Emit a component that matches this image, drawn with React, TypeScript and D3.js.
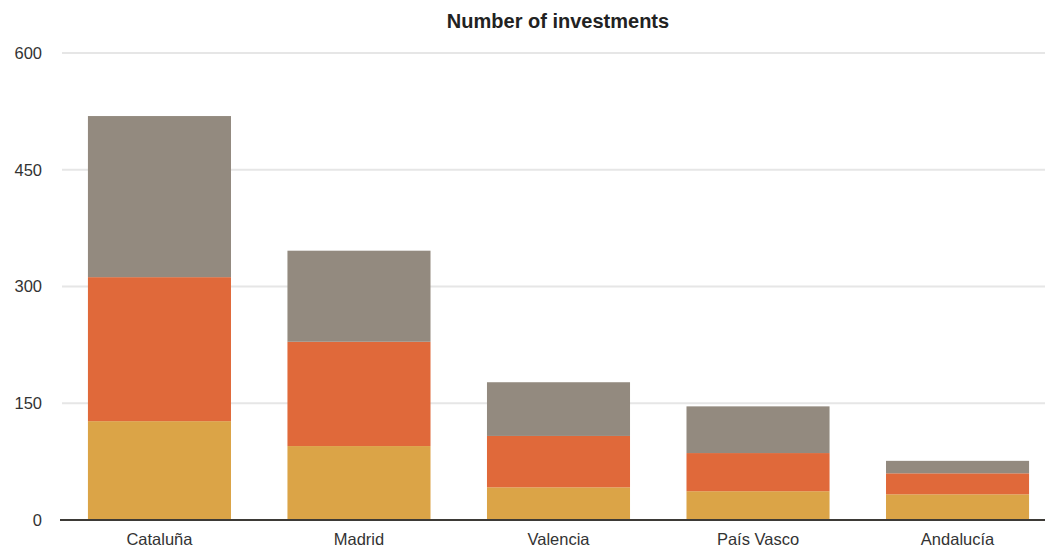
import React from "react";
import * as d3 from "d3";

const categories = ["Cataluña", "Madrid", "Valencia", "País Vasco", "Andalucía"];
const seriesKeys = ["bottom", "middle", "top"];
const bottomValues = [127, 95, 42, 37, 33];
const middleValues = [185, 134, 66, 49, 27];
const topValues = [207, 117, 69, 60, 16];
const yTicks = [0, 150, 300, 450, 600];
const colors = ["#dba447", "#e0693a", "#938a7f"];
const title = "Number of investments";

const W = 1047;
const H = 548;

export default function App() {
  const rows = categories.map((c, i) => ({
    cat: c,
    bottom: bottomValues[i],
    middle: middleValues[i],
    top: topValues[i],
  }));
  const stack = d3.stack<any>().keys(seriesKeys)(rows);
  const x = d3.scaleBand().domain(categories).range([60, 1057]).paddingInner(0.283).paddingOuter(0.14);
  const y = d3.scaleLinear().domain([0, 600]).range([520, 53]);
  const font = "'Liberation Sans', Arial, Helvetica, sans-serif";

  return (
    <svg width={W} height={H} style={{ position: "absolute", left: 0, top: 0, background: "#fff" }} fontFamily={font}>
      <text x={558} y={28} textAnchor="middle" fontSize={20} fontWeight="bold" fill="#222">
        {title}
      </text>
      {yTicks.map((t) => (
        <g key={t}>
          {t !== 0 && (
            <line x1={62} x2={1045} y1={y(t)} y2={y(t)} stroke="#e6e6e6" strokeWidth={2} />
          )}
          <text x={42} y={y(t)} dy="0.35em" textAnchor="end" fontSize={16.5} fill="#333">
            {t}
          </text>
        </g>
      ))}
      {stack.map((s, si) => (
        <g key={s.key} fill={colors[si]}>
          {s.map((d, i) => (
            <rect
              key={i}
              x={x(categories[i])}
              width={x.bandwidth()}
              y={y(d[1])}
              height={y(d[0]) - y(d[1])}
            />
          ))}
        </g>
      ))}
      <line x1={60} x2={1045} y1={y(0)} y2={y(0)} stroke="#3d3a36" strokeWidth={2} />
      {categories.map((c) => (
        <text key={c} x={(x(c) as number) + x.bandwidth() / 2} y={545} textAnchor="middle" fontSize={16.5} fill="#333">
          {c}
        </text>
      ))}
    </svg>
  );
}
